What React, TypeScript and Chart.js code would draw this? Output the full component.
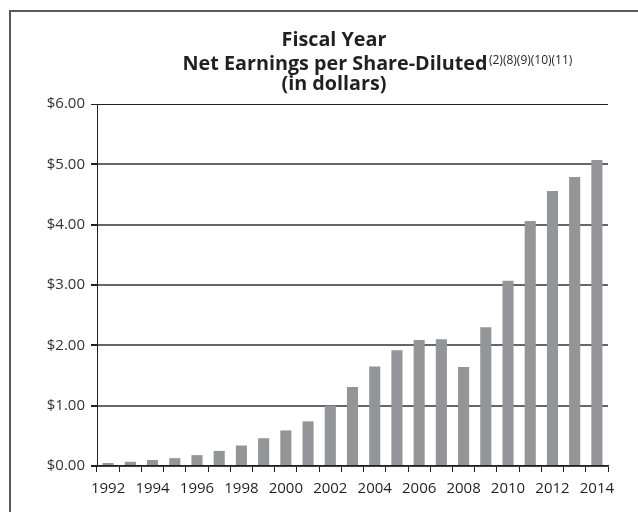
import React, { useEffect, useRef } from "react";
import { Chart, registerables } from "chart.js";

Chart.register(...registerables);

const years = [
  "1992", "1993", "1994", "1995", "1996", "1997", "1998", "1999", "2000", "2001", "2002", "2003",
  "2004", "2005", "2006", "2007", "2008", "2009", "2010", "2011", "2012", "2013", "2014",
];
const eps = [
  0.05, 0.07, 0.1, 0.13, 0.18, 0.25, 0.34, 0.46, 0.59, 0.74, 1.0, 1.31,
  1.65, 1.92, 2.09, 2.1, 1.64, 2.3, 3.07, 4.06, 4.56, 4.79, 5.07,
];
const yMin = 0;
const yMax = 6;
const yStep = 1;
const titleLine1 = "Fiscal Year";
const titleLine2 = "Net Earnings per Share-Diluted";
const titleNotes = "(2)(8)(9)(10)(11)";
const titleLine3 = "(in dollars)";

const TITLE_FAMILY = '"Open Sans", "Liberation Sans", sans-serif';

const titlePlugin = {
  id: "customTitle",
  afterDraw(chart: any) {
    const ctx = chart.ctx as CanvasRenderingContext2D;
    ctx.save();
    ctx.fillStyle = "#231f20";
    ctx.textBaseline = "alphabetic";
    ctx.font = `bold 20px ${TITLE_FAMILY}`;
    const w20 = ctx.measureText(titleLine2).width;
    const size = Math.min(20, (20 * 305) / w20);
    const bold = `bold ${size.toFixed(2)}px ${TITLE_FAMILY}`;
    ctx.font = bold;
    ctx.textAlign = "center";
    ctx.fillText(titleLine1, 334, 46);
    const w = ctx.measureText(titleLine2).width;
    const x2 = 335 - w / 2;
    ctx.textAlign = "left";
    ctx.fillText(titleLine2, x2, 70);
    ctx.font = `12px ${TITLE_FAMILY}`;
    ctx.fillText(titleNotes, x2 + w + 1.5, 63.5);
    ctx.font = bold;
    ctx.textAlign = "center";
    ctx.fillText(titleLine3, 334, 89.5);
    ctx.restore();
  },
};

export default function App() {
  const canvasRef = useRef<HTMLCanvasElement | null>(null);

  useEffect(() => {
    if (!canvasRef.current) return;
    const chart = new Chart(canvasRef.current, {
      type: "bar",
      data: {
        labels: years,
        datasets: [
          {
            data: eps,
            backgroundColor: "#939598",
            borderWidth: 0,
            categoryPercentage: 1,
            barPercentage: 0.5,
          },
        ],
      },
      options: {
        animation: false,
        responsive: false,
        maintainAspectRatio: false,
        layout: { padding: { left: 0, right: 30, top: 104, bottom: 0 } },
        plugins: {
          legend: { display: false },
          title: { display: false },
          tooltip: { enabled: false },
        },
        scales: {
          x: {
            afterFit(scale: any) {
              scale.height = 46;
            },
            grid: {
              offset: true,
              drawOnChartArea: false,
              drawTicks: true,
              tickLength: 6,
              tickColor: "#231f20",
              lineWidth: 1,
            },
            border: { display: true, color: "#231f20", width: 1.5 },
            ticks: {
              autoSkip: false,
              maxRotation: 0,
              minRotation: 0,
              padding: 8,
              color: "#231f20",
              font: { family: '"Open Sans", sans-serif', size: 15 },
              callback: (_v: any, i: number) => (i % 2 === 0 ? years[i] : ""),
            },
          },
          y: {
            min: yMin,
            max: yMax,
            afterFit(scale: any) {
              scale.width = 97;
            },
            grid: {
              drawTicks: true,
              tickLength: 6,
              tickColor: "#231f20",
              color: (c: any) => (c.tick && c.tick.value === yMax ? "#231f20" : "#666666"),
              lineWidth: (c: any) => (c.tick && c.tick.value === yMax ? 1 : 2),
            },
            border: { display: true, color: "#231f20", width: 1 },
            ticks: {
              stepSize: yStep,
              padding: 6,
              color: "#333333",
              font: { family: '"Open Sans", sans-serif', size: 15 },
              callback: (v: any) => "$" + Number(v).toFixed(2),
            },
          },
        },
      },
      plugins: [titlePlugin],
    });
    return () => chart.destroy();
  }, []);

  return (
    <div style={{ position: "fixed", left: 0, top: 0, width: 638, height: 512, background: "#fff" }}>
      <div
        style={{
          position: "absolute",
          left: 9,
          top: 10,
          width: 640,
          height: 510,
          borderLeft: "2px solid #58595b",
          borderTop: "2px solid #58595b",
        }}
      />
      <canvas
        ref={canvasRef}
        width={638}
        height={512}
        style={{ position: "absolute", left: 0, top: 0, width: 638, height: 512 }}
      />
    </div>
  );
}
